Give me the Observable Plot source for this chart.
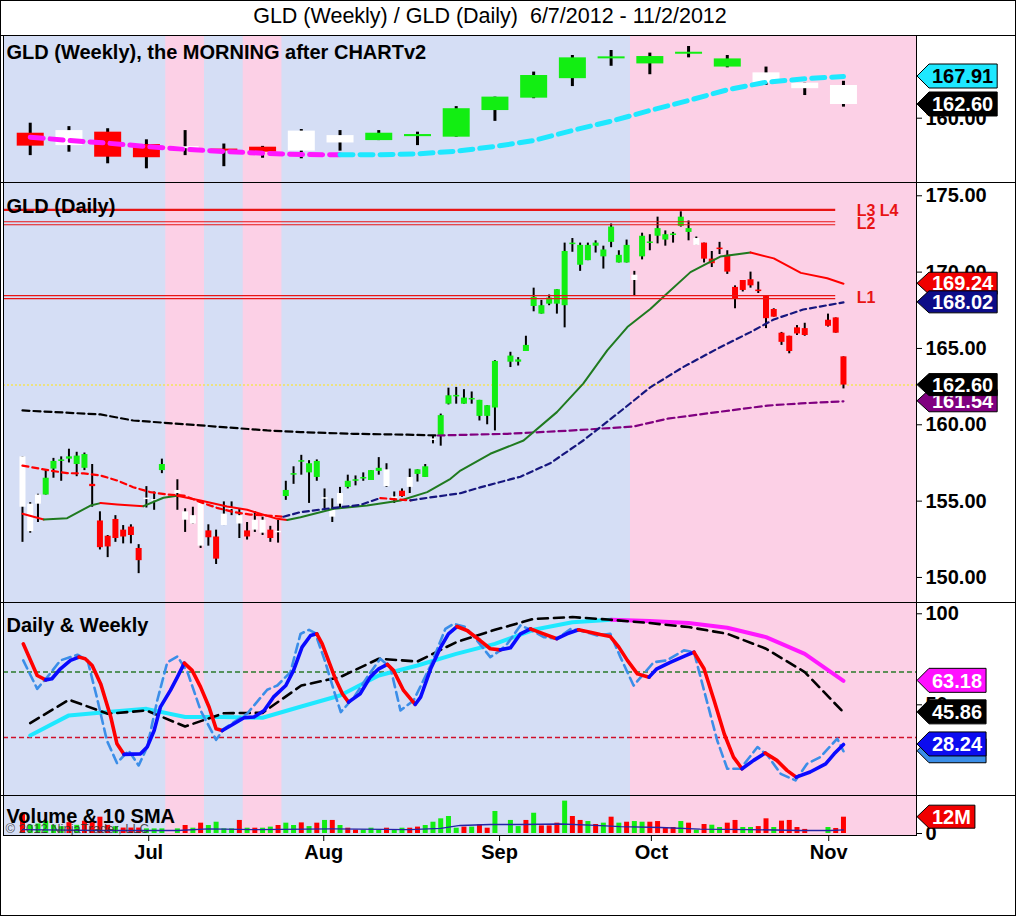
<!DOCTYPE html>
<html>
<head>
<meta charset="utf-8">
<script src="https://cdn.jsdelivr.net/npm/d3@7"></script>
<script src="https://cdn.jsdelivr.net/npm/@observablehq/plot@0.6"></script>
<style>
html,body{margin:0;padding:0;background:#fff;}
#wrap{position:relative;width:1016px;height:916px;overflow:hidden;font-family:"Liberation Sans",Arial,sans-serif;background:#fff;}
#wrap svg{position:absolute;left:0;overflow:visible;}
.sep{position:absolute;left:0;width:1016px;height:1px;background:#000;}
#frame{position:absolute;left:0;top:0;width:1016px;height:916px;border:1px solid #000;box-sizing:border-box;}
#title{position:absolute;top:4px;left:0;width:980px;text-align:center;font-size:21.5px;line-height:24px;white-space:pre;color:#000;}
</style>
</head>
<body>
<div id="wrap"><div id="title"></div></div>
<script>
// ---------------- DATA ----------------
const chartTitle = "GLD (Weekly) / GLD (Daily)  6/7/2012 - 11/2/2012";
const weeklyTitle = "GLD (Weekly), the MORNING after CHARTv2";
const dailyTitle = "GLD (Daily)";
const oscTitle = "Daily & Weekly";
const volTitle = "Volume & 10 SMA";
const copyright = "\u00A9 2012 NinjaTrader, LLC";

// daily bars (trading days)
const dailyDates = ["6/7","6/8","6/11","6/12","6/13","6/14","6/15","6/18","6/19","6/20","6/21","6/22","6/25","6/26","6/27","6/28","6/29","7/2","7/3","7/5","7/6","7/9","7/10","7/11","7/12","7/13","7/16","7/17","7/18","7/19","7/20","7/23","7/24","7/25","7/26","7/27","7/30","7/31","8/1","8/2","8/3","8/6","8/7","8/8","8/9","8/10","8/13","8/14","8/15","8/16","8/17","8/20","8/21","8/22","8/23","8/24","8/27","8/28","8/29","8/30","8/31","9/4","9/5","9/6","9/7","9/10","9/11","9/12","9/13","9/14","9/17","9/18","9/19","9/20","9/21","9/24","9/25","9/26","9/27","9/28","10/1","10/2","10/3","10/4","10/5","10/8","10/9","10/10","10/11","10/12","10/15","10/16","10/17","10/18","10/19","10/22","10/23","10/24","10/25","10/26","10/31","11/1","11/2"];
const dailyOpen = [157.9,154.8,155.4,155.4,157.1,157.6,157.75,157.4,157.15,156.1,153.7,152.7,153.8,153.1,153.3,151.9,155.2,155.1,157.0,155.7,154.3,154.05,154.85,153.05,152.65,154.15,154.55,154.05,153.05,153.75,153.75,153.1,153.0,155.3,156.7,157.55,156.85,156.55,155.2,154.4,155.5,155.9,156.3,156.45,156.35,156.95,157.05,155.25,155.65,156.55,156.75,156.55,159.05,159.3,161.35,161.85,161.35,161.65,160.55,160.55,161.1,164.1,164.1,164.8,167.75,167.25,167.9,167.9,167.8,171.8,170.45,170.75,171.7,171.0,171.95,170.6,170.6,169.8,171.0,171.9,172.35,172.1,172.4,173.0,172.6,172.2,171.9,170.85,171.55,171.1,169.0,169.45,169.5,168.8,168.4,167.55,166.0,165.8,166.35,166.3,166.85,167.0,164.45];
const dailyHigh = [157.9,154.9,155.45,157.05,157.8,157.9,158.4,158.2,158.15,157.4,154.3,152.75,154.05,153.4,153.45,152.15,155.95,155.6,157.75,156.4,154.5,154.6,154.95,153.45,153.1,154.95,154.95,154.5,153.6,154.3,153.95,153.35,153.75,156.3,157.25,158.0,157.65,157.7,155.8,155.15,155.9,156.7,156.65,156.85,157.0,157.85,157.45,155.6,155.8,157.1,157.05,157.4,159.3,160.7,162.4,162.45,162.3,162.15,161.6,161.25,164.2,164.75,164.4,165.8,168.95,168.15,168.5,168.85,171.9,172.2,171.9,171.9,172.05,171.7,173.15,171.4,172.1,170.05,172.55,172.45,173.6,172.7,172.6,173.95,173.35,172.3,171.9,171.35,171.95,171.4,169.1,169.45,170.0,169.35,168.45,167.6,166.05,165.8,166.5,166.65,167.25,167.0,164.45];
const dailyLow = [152.3,152.9,153.6,155.4,156.5,156.3,157.5,156.6,157.0,154.6,151.8,151.3,152.3,152.2,152.2,150.25,154.55,154.4,156.8,154.4,152.95,153.5,151.9,152.05,150.85,153.4,154.05,152.55,152.45,152.95,152.75,152.3,152.25,155.05,156.1,156.7,154.85,156.3,154.5,153.6,154.5,155.8,156.0,156.3,156.35,156.7,155.9,154.85,155.25,155.5,156.25,156.55,158.75,158.6,161.3,161.35,161.35,161.35,160.25,160.0,159.6,163.75,163.85,164.8,167.4,167.25,167.8,167.25,166.35,171.3,170.05,170.75,171.25,170.2,171.6,170.6,170.6,168.4,170.8,171.4,171.85,171.7,171.9,172.95,172.05,171.75,170.6,170.3,171.15,169.85,167.6,168.7,168.95,168.6,166.3,167.05,165.2,164.65,165.85,165.8,166.4,166.0,162.35];
const dailyClose = [154.6,153.0,154.8,156.5,157.6,157.7,157.9,157.95,158.05,155.95,151.95,152.0,152.55,152.65,152.75,151.1,155.1,155.0,157.4,155.5,153.75,153.5,152.05,152.6,151.2,153.4,154.45,153.5,152.65,153.1,152.9,152.55,152.95,155.7,156.8,157.65,157.45,157.6,155.15,153.95,154.8,156.3,156.4,156.55,157.0,157.15,155.95,155.2,155.3,155.9,157.05,157.25,159.0,160.6,161.9,161.9,161.75,161.7,161.6,161.25,164.15,164.5,164.25,165.2,168.35,167.8,168.3,168.85,171.35,171.9,171.75,171.75,171.9,171.45,172.95,171.1,171.75,169.45,172.35,171.95,172.85,172.45,172.5,173.6,172.85,171.75,170.85,170.55,171.5,170.0,168.25,168.8,169.1,168.75,166.95,167.05,165.4,164.8,165.95,165.85,166.45,166.0,162.6];
// paint-bar state: g = up, r = down, w = neutral
const dailyState = ("wwwggggggr"+"rrrrrrwwgw"+"wwwrrwwwrw"+"wrwgggggww"+"wgggggwwrw"+"ggwggggggg"+"gggggggggg"+"gggggggwgg"+"gggggwrrrr"+"rrrrrrrrrr"+"rrr").split("");
// volume, millions
const dailyVolume = [14.5,6,7,9,6,5,8,6,9,8,12,6,5,4,4,4,3.4,3.4,3.4,3.4,5.9,3.9,7.6,5.9,8.3,3.4,3.4,9.6,3.9,3.9,3.9,4.7,5.9,7.6,5.9,7.8,5.1,7.6,9.6,9.6,5.9,3.9,2.5,2.5,3.9,2.5,3.9,2.5,3.9,3.9,4.7,5.9,8.3,10.8,12.5,3.9,4.7,4.7,6.4,3.9,16.2,9.6,5.1,9.6,14.9,5.6,5.6,7.6,23.8,12.5,9.6,8.8,6.6,7.6,12.0,7.6,8.3,8.8,8.3,8.3,8.8,4.4,4.4,8.8,7.6,2.5,6.6,6.1,4.4,7.6,9.6,4.4,4.4,5.1,10.8,4.4,9.1,9.6,4.4,3.0,4.4,3.7,12.0];
const volumeState = ("rgggggrgrr"+"rrgrrrgggg"+"rgrggggrgr"+"ggrggrgrgr"+"grrgggrggr"+"rgggggrgrr"+"gggrgrrrgr"+"rgrgrgrggr"+"rrrgrgrggr"+"rggrrgrrrr"+"grr").split("");

// weekly bars
const weeklyDates = ["6/8","6/15","6/22","6/29","7/6","7/13","7/20","7/27","8/3","8/10","8/17","8/24","8/31","9/7","9/14","9/21","9/28","10/5","10/12","10/19","10/26","11/2"];
const weeklyOpen = [157.15,157.65,157.35,155.0,154.45,154.0,154.5,157.55,156.7,155.75,156.5,156.4,161.45,163.8,167.5,171.35,170.3,172.2,169.7,168.6,166.65,166.2];
const weeklyHigh = [159.05,158.4,158.0,155.9,157.65,155.1,154.65,157.85,157.65,157.65,157.35,162.2,164.0,168.75,171.9,172.85,172.35,173.6,171.9,169.7,166.65,167.0];
const weeklyLow = [152.9,153.55,151.35,150.4,152.9,150.8,152.4,152.3,153.75,155.75,154.8,156.4,159.4,163.7,166.0,169.85,168.25,171.45,169.56,166.2,164.3,162.1];
const weeklyClose = [154.7,154.8,152.6,152.5,154.35,153.9,153.55,153.75,155.3,157.15,156.9,161.8,164.0,168.1,171.45,171.55,171.7,172.45,171.25,166.65,165.6,162.6];
const weeklyState = "rwrrwrrwwggggggggggwww".split("");
const weeklyMA = [156.4,155.77,155.26,154.63,154.1,153.68,153.36,153.1,153.05,153.06,153.24,153.74,154.63,155.77,157.67,159.43,161.46,163.36,165.39,166.83,167.48,167.91];
// weeks shaded pink
const pinkWeeks = ["7/6","7/20","9/28","10/5","10/12","10/19","10/26","11/2"];

// daily moving averages (x = weekday index since 6/7/2012)
const smaDay = [0,2.75,5.77,8.78,10.07,12.23,15.62,18.2,19.97,22.98,26.43,29.01,32.89,34.18,35.9,40.2,44.5,48.8,52.25,55.26,56.55,60.4,64.7,69.0,72.4,75.5,78.1,81.1,82.8,86.25,90.1,94.0,97.0,100.5,103.9,106];
const smaVal = [154.17,153.8,153.88,154.71,154.87,154.78,154.67,155.22,155.35,155.04,154.65,154.43,153.84,153.77,153.95,154.5,154.71,155.04,155.59,156.46,157.0,158.1,158.97,160.83,162.7,164.87,166.4,167.6,168.4,170.0,171.02,171.28,170.9,169.95,169.6,169.24];
const emaDay = [0,3.6,5.77,7.9,10.07,12.23,14.3,16.5,18.7,20.8,23.0,25.1,27.3,29.4,31.6,33.7,35.9,40.2,43.6,46.2,50.1,51.4,56.55,59.1,64.3,68.2,72.4,76.8,81.1,85.3,89.7,94.0,97.0,100.8,106];
const emaVal = [157.33,157.0,156.83,156.82,156.68,156.35,155.91,155.59,155.43,155.37,154.93,154.56,154.28,154.12,154.06,153.98,154.28,154.56,154.75,155.2,155.05,155.15,155.52,155.9,156.6,157.5,158.97,160.72,162.47,163.78,164.98,166.07,166.9,167.55,168.02];
const lmaDay = [0,10.07,14.3,23.0,31.6,35.9,42.7,49.7,53.6,62.6,71.1,78.9,83.3,89.7,96.2,100.5,106];
const lmaVal = [160.94,160.68,160.28,159.96,159.63,159.52,159.41,159.35,159.3,159.41,159.63,159.89,160.4,160.83,161.26,161.4,161.54];
const lmaPriceAbove = 53.6; // price above the long average from here on

// horizontal levels
const levelNames = ["L3 L4","L2","L1"];
const levelValues = [174.08,173.2,168.36];
const levelEnd = "11/1";

// oscillators
const kDay = [0.1,1.9,3.0,3.8,4.9,6.2,7.3,8.1,9.0,10.1,11.4,12.2,13.1,14.2,15.2,16.1,17.0,17.8,19.1,20.0,20.9,21.9,23.0,24.1,25.0,25.8,27.3,28.6,29.9,31.2,32.4,34.0,35.0,36.1,37.2,38.0,38.7,39.5,40.4,41.3,42.1,43.6,44.9,46.0,47.1,47.9,49.2,50.7,51.4,52.7,54.0,55.0,56.1,57.4,59.1,60.4,61.7,63.0,64.3,65.6,67.3,69.0,70.3,71.8,73.3,74.6,75.9,77.0,78.1,79.4,80.9,81.9,83.7,85.4,86.7,88.0,89.3,90.6,91.8,92.9,94.4,95.9,97.4,98.7,99.9,101.7,103.7,104.8,106];
const kVal = [83.5,66.1,63.7,64.3,69.8,74.4,76.2,75.3,71.6,61.5,43.3,28.6,22.8,22.9,23.0,26.8,35.9,48.7,57.9,65.2,72.9,68.9,59.7,48.7,36.8,35.9,39.6,42.9,43.3,46.9,54.2,60.6,68.9,81.7,88.1,89.0,83.5,74.4,64.3,56.1,51.5,56.1,65.2,69.8,72.2,68.9,57.9,50.2,54.2,69.8,81.7,89.0,93.0,90.8,85.3,80.8,80.2,81.3,89.0,91.7,89.0,86.3,89.0,91.2,89.9,88.6,87.5,81.7,74.4,67.0,65.2,69.8,73.4,76.6,78.9,69.8,52.4,34.1,21.3,14.9,19.5,23.5,19.5,14.0,10.3,13.1,17.6,23.1,28.24];
const dDay = [0.1,1.9,3.2,4.9,7.1,8.4,9.6,10.9,12.2,13.7,15.0,16.1,17.4,18.7,20.0,21.3,23.0,25.0,26.0,27.3,29.0,31.6,32.9,34.6,35.9,37.0,37.8,39.1,40.2,41.1,42.8,44.5,46.2,47.5,48.8,50.5,52.7,54.6,55.7,57.2,58.7,60.4,61.7,62.6,64.3,65.6,67.3,69.0,70.8,72.0,74.2,75.9,77.2,78.9,80.2,81.5,83.2,85.4,86.7,88.0,89.7,91.0,92.7,94.9,96.2,97.9,99.8,101.3,103.0,105.2,106];
const dVal = [74.4,58.8,65.2,74.4,77.5,74.4,54.2,30.4,18.0,24.9,16.7,26.8,52.4,73.4,76.6,68.0,46.9,30.8,36.8,40.5,45.1,58.3,60.6,68.0,89.0,91.2,89.4,73.4,57.9,46.0,54.2,65.2,75.3,70.7,46.9,52.4,71.6,91.7,94.5,92.7,85.3,76.2,79.9,83.5,93.6,91.2,87.2,86.3,91.7,90.8,88.1,89.0,76.2,60.6,67.0,73.4,74.4,79.9,78.9,57.9,30.4,14.9,14.9,26.8,22.2,12.1,8.5,17.6,21.3,31.4,24.5];
const weeklyK = [33.2,44.2,46.0,47.8,43.3,43.3,42.9,49.1,55.1,66.1,71.6,78.0,83.5,91.2,95.4,96.7,96.0,94.9,92.3,87.2,78.0,63.18];
const weeklyD = [40.0,52.8,45.1,46.9,38.1,45.4,45.6,60.6,65.2,75.3,73.8,84.4,91.2,97.2,98.2,96.7,94.9,92.7,89.0,80.8,68.0,45.86];
const weeklyKTurn = "9/21";
const oscUpper = 68, oscLower = 32;

// volume SMA
const volSmaDay = [0,10,20,24,30,40,50,54,56.5,60.4,64.3,69.5,73.3,77.2,82.4,87.5,94,100.5,104.3,106];
const volSmaVal = [2.9,2.2,2.2,3.4,2.9,3.4,2.9,3.7,5.9,6.6,6.6,7.0,6.2,5.1,4.4,3.2,2.9,2.2,2.2,2.6];

// axes
const weeklyTicks = [160];
const dailyTicks = [150,155,160,165,170,175];
const oscTicks = [50,100];
const volTicks = [0];
const monthTickDays = [16.3,38.9,61.6,81.2,104.1];
const monthLabels = ["Jul","Aug","Sep","Oct","Nov"];

// ---------------- HELPERS ----------------
const FONT = '"Liberation Sans", Arial, sans-serif';
const BLUE_BG = "#d5def5", PINK_BG = "#fcd0e6";
const CANDLE = {g: "#12ee12", r: "#ff0000", w: "#ffffff"};
const VOLC = {g: "#12ee12", r: "#ff0000"};
const MAGENTA = "#ff18ff", CYAN = "#1ee8ff", RED = "#ff0000", GREENL = "#1f7a1f", NAVY = "#16167e", PURPLE = "#800080", BLUE = "#0a0aff", DBLUE = "#3b8ee8";

const START = new Date(2012, 5, 7);
function dayIndex(md) {
  const [m, d] = md.split("/").map(Number);
  const end = new Date(2012, m - 1, d);
  let n = 0;
  for (let t = new Date(START); t < end; t.setDate(t.getDate() + 1)) {
    const w = t.getDay(); if (w !== 0 && w !== 6) n++;
  }
  return n;
}
function colorRuns(xs, ys, segColor) {
  const rows = []; let run = -1, prev = null;
  for (let i = 0; i < xs.length - 1; i++) {
    const c = segColor(i);
    if (c !== prev) { run++; rows.push({x: xs[i], y: ys[i], run, color: c}); prev = c; }
    rows.push({x: xs[i + 1], y: ys[i + 1], run, color: c});
  }
  return rows;
}
function body(d, minH) {
  let lo = Math.min(d.o, d.c), hi = Math.max(d.o, d.c);
  if (hi - lo < minH) { const m = (lo + hi) / 2; lo = m - minH / 2; hi = m + minH / 2; }
  return [lo, hi];
}
const xDomain = [-2.45, 115.43];
const P = {
  weekly: {top: 35, height: 147, y: [147.8, 175.69]},
  daily: {top: 182, height: 420, y: [148.36, 175.87]},
  osc: {top: 602, height: 193, y: [0.2, 106.2]},
  vol: {top: 795, height: 40, y: [-1.47, 27.94]}
};

const bands = [];
for (const w of pinkWeeks) {
  const c = dayIndex(w), a = c - 2.5, b = c + 2.5, last = bands[bands.length - 1];
  if (last && a <= last.x2 + 1e-6) last.x2 = b; else bands.push({x1: a, x2: b});
}
bands[bands.length - 1].x2 = xDomain[1];
const bandMark = yd => Plot.rect(bands, {x1: "x1", x2: "x2", y1: () => yd[0], y2: () => yd[1], fill: PINK_BG});

const ctx = document.createElement("canvas").getContext("2d");
ctx.font = "bold 20px " + FONT;
function flagMark(items, h) {
  return (index, scales, values, dims) => {
    const g = d3.create("svg:g").attr("font-family", FONT).attr("font-size", 20).attr("font-weight", "bold");
    const x0 = dims.width - dims.marginRight + 1, tip = 12;
    for (const f of items) {
      const y = scales.y(f.value);
      const tw = ctx.measureText(f.text || f.value.toFixed(2)).width;
      const w = tw + 19;
      g.append("polygon")
        .attr("points", [[x0, y], [x0 + tip, y - h / 2], [x0 + w, y - h / 2], [x0 + w, y + h / 2], [x0 + tip, y + h / 2]].map(p => p.join(",")).join(" "))
        .attr("fill", f.fill).attr("stroke", "#000").attr("stroke-width", 1);
      if (f.text) g.append("text").attr("x", x0 + tip + (w - tip) / 2 - 0.5).attr("y", y).attr("dy", "0.36em")
        .attr("text-anchor", "middle").attr("fill", f.color).text(f.text);
    }
    return g.node();
  };
}
function base(p, extra) {
  return Object.assign({
    width: 1016, height: p.height, marginLeft: 3, marginRight: 100, marginTop: 0, marginBottom: 0,
    x: {domain: xDomain, axis: null}, y: {domain: p.y}, color: {type: "identity"},
    style: {fontFamily: FONT, overflow: "visible", background: "transparent"}
  }, extra);
}
const titleText = (t, dy) => Plot.text([t], {frameAnchor: "top-left", text: d => d, dx: 3, dy, textAnchor: "start", lineAnchor: "middle", fontSize: 20, fontWeight: "bold", fill: "#000"});
const rightAxis = (ticks, fmt) => Plot.axisY(ticks, {anchor: "right", tickSize: 5, tickPadding: 4, tickFormat: fmt, fontSize: 20, fontWeight: "bold", label: null, stroke: "#000", fill: "#000"});
const f2 = d => d.toFixed(2);

const wrap = document.getElementById("wrap");
document.getElementById("title").textContent = chartTitle;
function mount(svg, top) { svg.style.top = top + "px"; wrap.appendChild(svg); }

// ---------------- WEEKLY ----------------
const wRows = weeklyDates.map((d, i) => ({x: dayIndex(d), o: weeklyOpen[i], h: weeklyHigh[i], l: weeklyLow[i], c: weeklyClose[i], s: weeklyState[i]}));
const wX = wRows.map(d => d.x);
const wMaRuns = colorRuns(wX, weeklyMA, i => weeklyMA[i + 1] >= weeklyMA[i] ? CYAN : MAGENTA);
mount(Plot.plot(base(P.weekly, {marks: [
  Plot.frame({fill: BLUE_BG, stroke: "none"}),
  bandMark(P.weekly.y),
  Plot.ruleX(wRows, {x: "x", y1: "l", y2: "h", stroke: "#000", strokeWidth: 3}),
  Plot.ruleX(wRows, {x: "x", y1: d => body(d, 0.38)[0], y2: d => body(d, 0.38)[1], stroke: d => CANDLE[d.s], strokeWidth: 27}),
  Plot.line(wMaRuns, {x: "x", y: "y", z: "run", stroke: "color", strokeWidth: 5, strokeDasharray: "13,7"}),
  titleText(weeklyTitle, 17),
  Plot.frame({stroke: "#000"}),
  rightAxis(weeklyTicks, f2),
  flagMark([
    {value: weeklyMA[weeklyMA.length - 1], text: f2(weeklyMA[weeklyMA.length - 1]), fill: CYAN, color: "#000"},
    {value: weeklyClose[weeklyClose.length - 1], text: f2(weeklyClose[weeklyClose.length - 1]), fill: "#000", color: "#fff"}
  ], 24)
]})), P.weekly.top);

// ---------------- DAILY ----------------
const dRows = dailyDates.map((d, i) => ({x: dayIndex(d), o: dailyOpen[i], h: dailyHigh[i], l: dailyLow[i], c: dailyClose[i], s: dailyState[i], v: dailyVolume[i], vs: volumeState[i]}));
const lastClose = dailyClose[dailyClose.length - 1];
const smaRuns = colorRuns(smaDay, smaVal, i => smaVal[i + 1] >= smaVal[i] ? GREENL : RED);
const emaRuns = colorRuns(emaDay, emaVal, i => emaVal[i + 1] >= emaVal[i] ? NAVY : RED);
const lmaRuns = colorRuns(lmaDay, lmaVal, i => lmaDay[i] >= lmaPriceAbove ? PURPLE : "#000");
const levels = levelNames.map((n, i) => ({name: n, v: levelValues[i]}));
const lvEnd = dayIndex(levelEnd);
const smaLast = smaVal[smaVal.length - 1];
const smaFalling = smaVal[smaVal.length - 1] < smaVal[smaVal.length - 2];
mount(Plot.plot(base(P.daily, {marks: [
  Plot.frame({fill: BLUE_BG, stroke: "none"}),
  bandMark(P.daily.y),
  Plot.ruleY([lastClose], {y: d => d, stroke: "#f3e45a", strokeWidth: 1.5, strokeDasharray: "2,2"}),
  Plot.ruleX(dRows, {x: "x", y1: "l", y2: "h", stroke: "#000", strokeWidth: 2}),
  Plot.ruleX(dRows, {x: "x", y1: d => body(d, 0.1)[0], y2: d => body(d, 0.1)[1], stroke: d => CANDLE[d.s], strokeWidth: 6}),
  Plot.line(lmaRuns, {x: "x", y: "y", z: "run", stroke: "color", strokeWidth: 2.2, strokeDasharray: "7,4"}),
  Plot.line(smaRuns, {x: "x", y: "y", z: "run", stroke: "color", strokeWidth: 2}),
  Plot.line(emaRuns, {x: "x", y: "y", z: "run", stroke: "color", strokeWidth: 2.2, strokeDasharray: "6,4"}),
  Plot.ruleY(levels.filter((d, i) => i > 0), {y: "v", x1: () => xDomain[0], x2: () => lvEnd, stroke: "#e81414", strokeWidth: 1.2, dy: -1.5}),
  Plot.ruleY(levels.filter((d, i) => i > 0), {y: "v", x1: () => xDomain[0], x2: () => lvEnd, stroke: "#e81414", strokeWidth: 1.2, dy: 1.5}),
  Plot.ruleY(levels.filter((d, i) => i === 0), {y: "v", x1: () => xDomain[0], x2: () => lvEnd, stroke: "#e81414", strokeWidth: 2.2}),
  Plot.text(levels, {x: () => lvEnd, y: "v", text: "name", dx: 21, dy: 1, textAnchor: "start", lineAnchor: "middle", fill: "#e81414", fontSize: 16, fontWeight: "bold"}),
  titleText(dailyTitle, 24),
  Plot.frame({stroke: "#000"}),
  rightAxis(dailyTicks, f2),
  flagMark([
    {value: lmaVal[lmaVal.length - 1], text: f2(lmaVal[lmaVal.length - 1]), fill: PURPLE, color: "#fff"},
    {value: smaLast, text: f2(smaLast), fill: smaFalling ? "#f00000" : GREENL, color: "#fff"},
    {value: emaVal[emaVal.length - 1], text: f2(emaVal[emaVal.length - 1]), fill: "#0c0c88", color: "#fff"},
    {value: lastClose, text: f2(lastClose), fill: "#000", color: "#fff"}
  ], 22)
]})), P.daily.top);

// ---------------- OSCILLATOR ----------------
const kRuns = colorRuns(kDay, kVal, i => kVal[i + 1] >= kVal[i] ? BLUE : RED);
const kTurn = weeklyDates.indexOf(weeklyKTurn);
const wkRuns = colorRuns(wX, weeklyK, i => i >= kTurn ? MAGENTA : CYAN);
mount(Plot.plot(base(P.osc, {marks: [
  Plot.frame({fill: BLUE_BG, stroke: "none"}),
  bandMark(P.osc.y),
  Plot.ruleY([oscUpper], {y: d => d, stroke: "#2a7a2a", strokeWidth: 1.5, strokeDasharray: "5,3"}),
  Plot.ruleY([oscLower], {y: d => d, stroke: "#d0102a", strokeWidth: 1.5, strokeDasharray: "5,3"}),
  Plot.line(wkRuns, {x: "x", y: "y", z: "run", stroke: "color", strokeWidth: 4, strokeLinejoin: "round"}),
  Plot.line(wX.map((x, i) => ({x, y: weeklyD[i]})), {x: "x", y: "y", stroke: "#000", strokeWidth: 2.6, strokeDasharray: "10,6"}),
  Plot.line(dDay.map((x, i) => ({x, y: dVal[i]})), {x: "x", y: "y", stroke: DBLUE, strokeWidth: 2.6, strokeDasharray: "9,5"}),
  Plot.line(kRuns, {x: "x", y: "y", z: "run", stroke: "color", strokeWidth: 3.6, strokeLinejoin: "round"}),
  titleText(oscTitle, 23),
  Plot.frame({stroke: "#000"}),
  rightAxis(oscTicks, d => String(d)),
  flagMark([
    {value: weeklyK[weeklyK.length - 1], text: f2(weeklyK[weeklyK.length - 1]), fill: "#ff10ff", color: "#fff"},
    {value: weeklyD[weeklyD.length - 1], text: f2(weeklyD[weeklyD.length - 1]), fill: "#000", color: "#fff"},
    {value: dVal[dVal.length - 1], text: "", fill: DBLUE, color: "#fff"},
    {value: kVal[kVal.length - 1], text: f2(kVal[kVal.length - 1]), fill: "#0c0cf0", color: "#fff"}
  ], 24)
]})), P.osc.top);

// ---------------- VOLUME ----------------
const volLast = dailyVolume[dailyVolume.length - 1];
mount(Plot.plot(base(P.vol, {height: P.vol.height + 81, marginBottom: 81, x: {domain: xDomain}, marks: [
  Plot.frame({fill: BLUE_BG, stroke: "none"}),
  bandMark(P.vol.y),
  Plot.ruleX(dRows, {x: "x", y1: () => 0, y2: "v", stroke: d => VOLC[d.vs], strokeWidth: 5}),
  Plot.line(volSmaDay.map((x, i) => ({x, y: volSmaVal[i]})), {x: "x", y: "y", stroke: "#2424a8", strokeWidth: 1.3}),
  titleText(volTitle, 21),
  Plot.text([copyright], {frameAnchor: "top-left", text: d => d, dx: 2, dy: 33, textAnchor: "start", lineAnchor: "middle", fontSize: 13, fill: "#333", fillOpacity: 0.85}),
  Plot.frame({stroke: "#000"}),
  rightAxis(volTicks, d => String(d)),
  Plot.axisX(monthTickDays, {anchor: "bottom", tickSize: 6, tickPadding: 3, tickFormat: d => monthLabels[monthTickDays.indexOf(d)], fontSize: 20, fontWeight: "bold", label: null, stroke: "#000", fill: "#000"}),
  flagMark([{value: volLast, text: Math.round(volLast) + "M", fill: "#f00000", color: "#fff"}], 23)
]})), P.vol.top);

// separators across the right margin and outer frame
for (const t of [P.weekly.top, P.daily.top, P.osc.top, P.vol.top]) {
  const s = document.createElement("div"); s.className = "sep"; s.style.top = t + "px"; wrap.appendChild(s);
}
const fr = document.createElement("div"); fr.id = "frame"; wrap.appendChild(fr);
</script>
</body>
</html>
